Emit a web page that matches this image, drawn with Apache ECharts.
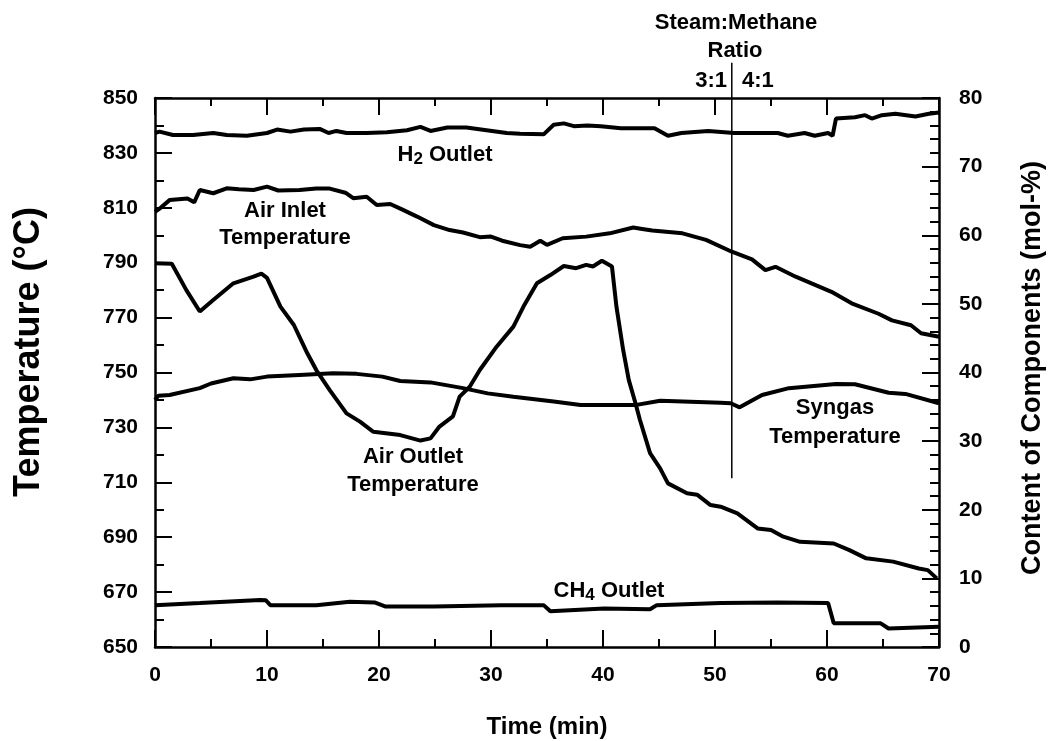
<!DOCTYPE html>
<html>
<head>
<meta charset="utf-8">
<script src="https://cdn.jsdelivr.net/npm/echarts@6.0.0/dist/echarts.min.js"></script>
<style>
  html, body { margin: 0; padding: 0; background: #fff; }
  #chart { width: 1048px; height: 741px; }
</style>
</head>
<body>
<div id="chart"></div>
<script>
const FONT = "'Liberation Sans', Arial, Helvetica, sans-serif"

// time in min, temperatures in °C (left axis)
const airInlet = [[0,808.5],[0.5,810],[1.3,812.8],[2.9,813.4],[3.5,812],[4,816.5],[5.2,815.3],[6.4,817.1],[7.5,816.8],[8.8,816.5],[10,817.7],[11,816.3],[12.9,816.5],[14.4,817],[15.6,817],[17,815.5],[17.7,813.5],[18.9,814],[19.8,811],[21,811.4],[22,809.5],[23.4,806.8],[24.9,803.7],[26.3,801.9],[27.5,801],[29,799.3],[30,799.5],[31,798],[32.6,796.4],[33.5,795.8],[34.4,798],[35,796.5],[36.4,798.9],[38.5,799.5],[40.6,800.7],[42.7,802.8],[43.5,802.3],[44.4,801.7],[47.1,800.7],[49.2,798.3],[51.5,794],[53.3,791.2],[54.5,787.3],[55.4,788.5],[57.2,784.9],[60.4,779.4],[62.2,775.2],[64.6,771.4],[65.8,769],[67.5,767.2],[68.4,764.3],[70,763]]

const airOutlet = [[0,789.8],[1.5,789.6],[2.8,780],[4,772.2],[5.2,776.4],[7,782.5],[8.8,784.9],[9.5,786],[10,784.5],[11.2,774],[12.4,767.3],[13.6,757],[14.4,750.9],[15.6,743.6],[17.1,735.1],[18.3,732.1],[19.5,728.4],[21.9,727.2],[23.7,725.2],[24.6,726],[25.4,730.3],[26.6,734],[27.2,741.2],[28.1,744.8],[29,750.9],[30.5,759.4],[32,766.7],[32.9,774],[34.1,782.5],[35.3,785.5],[36.5,788.8],[37.6,788],[38.5,789.2],[39.1,788.6],[39.9,790.7],[40.8,788.6],[41.2,774],[41.8,758.2],[42.3,747.3],[42.9,738.8],[43.3,732.7],[44.2,720.6],[45.1,715.1],[45.8,709.6],[47.5,706],[48.4,705.5],[49.6,701.7],[50.5,701.1],[52,698.7],[53.8,693.2],[55,692.6],[56.1,690.2],[57.6,688.3],[60.6,687.7],[62,685.3],[63.5,682.3],[65.9,681.1],[68.2,678.6],[69,678],[69.8,675]]

const syngas = [[0,740],[0.3,741.5],[1.3,741.8],[4,744.3],[5,746],[7,747.9],[8.5,747.5],[10,748.5],[12.9,749.1],[15.9,749.7],[18,749.5],[20.3,748.5],[21.9,746.9],[24.6,746.4],[27.5,744.3],[29.7,742.4],[32,741.2],[35.6,739.4],[38,738.2],[43,738.2],[45.1,739.7],[50.5,739],[51.4,738.8],[52.2,737.3],[54.2,741.8],[56.6,744.3],[60.8,745.8],[62.5,745.7],[65.5,742.6],[67,742.2],[70,738.8]]

// time in min, content in mol-% (right axis)
const h2Outlet = [[0,74.9],[0.4,75.1],[1.6,74.6],[3.4,74.6],[5.2,74.9],[6.4,74.6],[8.2,74.5],[10,74.9],[10.9,75.4],[12.1,75.1],[13.3,75.4],[14.7,75.5],[15.5,74.9],[16.2,75.2],[17.1,74.9],[18.9,74.9],[20.7,75],[22.5,75.3],[23.7,75.8],[24.6,75.2],[26.1,75.7],[27.8,75.7],[29.6,75.3],[31.4,74.9],[32.6,74.8],[34.7,74.7],[35.6,76.1],[36.5,76.3],[37.4,75.9],[38.6,76],[39.8,75.9],[41.6,75.6],[44.6,75.6],[45.8,74.5],[47,74.9],[49.4,75.2],[51.7,74.9],[55.6,74.9],[56.5,74.5],[58,74.9],[58.9,74.5],[60.1,74.9],[60.5,74.5],[60.8,77],[62.5,77.2],[63.4,77.5],[64,77],[64.9,77.5],[66.1,77.7],[67.9,77.3],[69.1,77.7],[70,77.9]]

const ch4Outlet = [[0,6.1],[4,6.4],[9.4,6.85],[9.9,6.8],[10.3,6.1],[14.4,6.1],[17.4,6.6],[19.6,6.5],[20.6,5.9],[24.9,5.9],[30.9,6.1],[34.7,6.1],[35.3,5.2],[40.1,5.6],[44.2,5.5],[44.8,6.1],[50.5,6.4],[55.6,6.5],[60.1,6.4],[60.6,3.45],[64.8,3.45],[65.5,2.7],[70,2.95]]

// steam:methane ratio change marker (time, temperature)
const ratioLine = [[51.5,711.5],[51.5,862.8]]

const chart = echarts.init(document.getElementById('chart'))

const tickLabel = { color: '#000', fontSize: 21, fontWeight: 'bold', fontFamily: FONT }
const blackLine = { color: '#000', width: 2.5 }
const tickLine = { color: '#000', width: 2 }

function timeAxis(pos) {
  return {
    type: 'value', position: pos, min: 0, max: 70, interval: 10,
    axisLine: { onZero: false, lineStyle: blackLine },
    axisTick: { inside: true, length: 17, lineStyle: tickLine },
    minorTick: { show: true, splitNumber: 2, length: 8, lineStyle: tickLine },
    axisLabel: pos === 'bottom' ? { ...tickLabel, margin: 18 } : { show: false },
    splitLine: { show: false }
  }
}

function curve(name, data, yAxisIndex) {
  return {
    name: name, type: 'line', data: data, yAxisIndex: yAxisIndex,
    symbol: 'none', showSymbol: false,
    lineStyle: { color: '#000', width: 4 },
    z: 3
  }
}

function label(x, y, text, extra) {
  return {
    type: 'text', x: x, y: y, z: 10,
    style: Object.assign({
      text: text, fill: '#000',
      font: 'bold 22px ' + FONT,
      align: 'center', verticalAlign: 'middle',
      textAlign: 'center', textVerticalAlign: 'middle'
    }, extra || {})
  }
}

const subRich = {
  a: { fontSize: 22, fontWeight: 'bold', fontFamily: FONT, lineHeight: 26, verticalAlign: 'middle' },
  s: { fontSize: 17, fontWeight: 'bold', fontFamily: FONT, lineHeight: 10, verticalAlign: 'bottom' }
}

chart.setOption({
  animation: false,
  backgroundColor: '#fff',
  grid: { left: 155, right: 109, top: 98, bottom: 94 },
  xAxis: [timeAxis('bottom'), timeAxis('top')],
  yAxis: [
    {
      type: 'value', position: 'left', min: 650, max: 850, interval: 20,
      axisLine: { show: true, onZero: false, lineStyle: blackLine },
      axisTick: { show: true, inside: true, length: 17, lineStyle: tickLine },
      minorTick: { show: true, splitNumber: 2, length: 9, lineStyle: tickLine },
      axisLabel: { ...tickLabel, margin: 17 },
      splitLine: { show: false }
    },
    {
      type: 'value', position: 'right', min: 0, max: 80, interval: 10,
      axisLine: { show: true, onZero: false, lineStyle: blackLine },
      axisTick: { show: true, inside: true, length: 17, lineStyle: tickLine },
      minorTick: { show: true, splitNumber: 5, length: 9, lineStyle: tickLine },
      axisLabel: { ...tickLabel, margin: 20 },
      splitLine: { show: false }
    }
  ],
  series: [
    curve('Air Inlet Temperature', airInlet, 0),
    curve('Air Outlet Temperature', airOutlet, 0),
    curve('Syngas Temperature', syngas, 0),
    curve('H2 Outlet', h2Outlet, 1),
    curve('CH4 Outlet', ch4Outlet, 1),
    {
      name: 'Steam:Methane Ratio', type: 'line', data: ratioLine, yAxisIndex: 0,
      symbol: 'none', clip: false,
      lineStyle: { color: '#000', width: 1.5 }, z: 2
    }
  ],
  graphic: [
    label(29, 352, 'Temperature (°C)', { font: 'bold 36px ' + FONT }),
    label(1033, 368, 'Content of Components (mol-%)', { font: 'bold 27px ' + FONT }),
    label(547, 727, 'Time (min)', { font: 'bold 24px ' + FONT }),
    label(736, 23, 'Steam:Methane'),
    label(735, 51, 'Ratio'),
    label(727, 81, '3:1', { align: 'right', textAlign: 'right' }),
    label(742, 81, '4:1', { align: 'left', textAlign: 'left' }),
    label(445, 155, '{a|H}{s|2}{a| Outlet}', { rich: subRich }),
    label(285, 211, 'Air Inlet'),
    label(285, 238, 'Temperature'),
    label(413, 457, 'Air Outlet'),
    label(413, 485, 'Temperature'),
    label(835, 408, 'Syngas'),
    label(835, 437, 'Temperature'),
    label(609, 591, '{a|CH}{s|4}{a| Outlet}', { rich: subRich })
  ].map(function (g, i) {
    if (i < 2) g.rotation = Math.PI / 2
    return g
  })
})
</script>
</body>
</html>
